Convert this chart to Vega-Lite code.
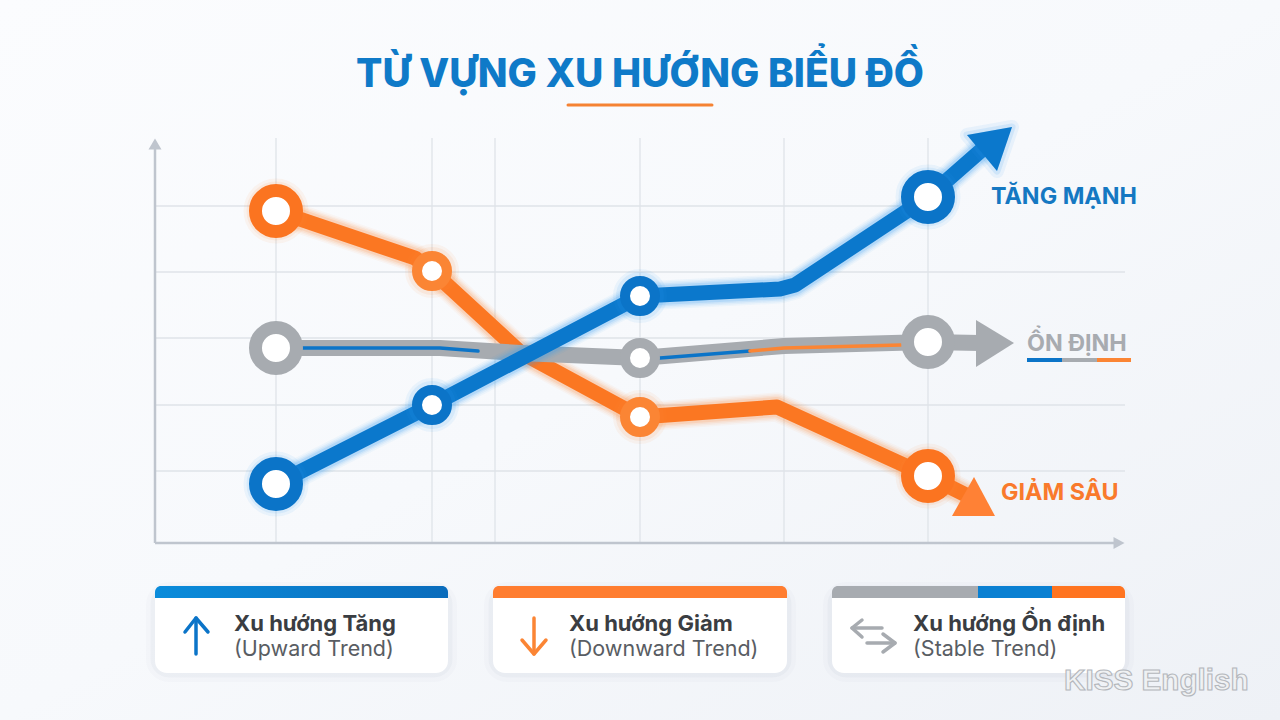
{
  "$schema": "https://vega.github.io/schema/vega-lite/v6.json",
  "width": 1280,
  "height": 720,
  "padding": 0,
  "autosize": {"type": "fit", "contains": "padding"},
  "background": "#f6f8fb",
  "config": {"view": {"stroke": null}, "legend": {"disable": true}},
  "datasets": {
    "trend": [
      {"series": "Tăng mạnh", "x": 12.1, "y": 5.9},
      {"series": "Tăng mạnh", "x": 27.7, "y": 13.8},
      {"series": "Tăng mạnh", "x": 48.5, "y": 24.7},
      {"series": "Tăng mạnh", "x": 62.5, "y": 25.4},
      {"series": "Tăng mạnh", "x": 64.0, "y": 25.8},
      {"series": "Tăng mạnh", "x": 77.3, "y": 34.6},
      {"series": "Tăng mạnh", "x": 83.0, "y": 39.6},
      {"series": "Giảm sâu", "x": 12.1, "y": 33.2},
      {"series": "Giảm sâu", "x": 26.0, "y": 28.5},
      {"series": "Giảm sâu", "x": 27.7, "y": 27.2},
      {"series": "Giảm sâu", "x": 36.5, "y": 19.1},
      {"series": "Giảm sâu", "x": 48.5, "y": 12.6},
      {"series": "Giảm sâu", "x": 62.2, "y": 13.6},
      {"series": "Giảm sâu", "x": 77.3, "y": 6.7},
      {"series": "Giảm sâu", "x": 81.7, "y": 4.5},
      {"series": "Ổn định", "x": 12.1, "y": 19.5},
      {"series": "Ổn định", "x": 28.5, "y": 19.5},
      {"series": "Ổn định", "x": 36.5, "y": 19.0},
      {"series": "Ổn định", "x": 48.5, "y": 18.5},
      {"series": "Ổn định", "x": 62.9, "y": 19.7},
      {"series": "Ổn định", "x": 77.3, "y": 20.1},
      {"series": "Ổn định", "x": 82.5, "y": 20.0}
    ],
    "markers": [
      {"series": "Giảm sâu", "tone": "orange", "kind": "major", "x": 12.1, "y": 33.2},
      {"series": "Giảm sâu", "tone": "soft", "kind": "minor", "x": 27.7, "y": 27.2},
      {"series": "Giảm sâu", "tone": "soft", "kind": "minor", "x": 48.5, "y": 12.6},
      {"series": "Giảm sâu", "tone": "orange", "kind": "major", "x": 77.3, "y": 6.7},
      {"series": "Ổn định", "tone": "gray", "kind": "major", "x": 12.1, "y": 19.5},
      {"series": "Ổn định", "tone": "gray", "kind": "minor", "x": 48.5, "y": 18.5},
      {"series": "Ổn định", "tone": "gray", "kind": "major", "x": 77.3, "y": 20.1},
      {"series": "Tăng mạnh", "tone": "blue", "kind": "major", "x": 12.1, "y": 5.9},
      {"series": "Tăng mạnh", "tone": "blue", "kind": "minor", "x": 27.7, "y": 13.8},
      {"series": "Tăng mạnh", "tone": "blue", "kind": "minor", "x": 48.5, "y": 24.7},
      {"series": "Tăng mạnh", "tone": "blue", "kind": "major", "x": 77.3, "y": 34.6}
    ],
    "inset": [
      {"part": "a", "tone": "blue", "x": 14.8, "y": 19.5},
      {"part": "a", "tone": "blue", "x": 28.5, "y": 19.5},
      {"part": "a", "tone": "blue", "x": 32.3, "y": 19.2},
      {"part": "b", "tone": "blue", "x": 50.5, "y": 18.5},
      {"part": "b", "tone": "blue", "x": 59.5, "y": 19.2},
      {"part": "c", "tone": "soft", "x": 59.5, "y": 19.2},
      {"part": "c", "tone": "soft", "x": 62.9, "y": 19.5},
      {"part": "c", "tone": "soft", "x": 74.6, "y": 19.8}
    ],
    "cards": [
      {"title": "Xu hướng Tăng", "note": "(Upward Trend)", "x": 0, "x2": 29.3, "y": -4.3, "y2": -13, "textx": 7.9, "titley": -8.8, "notey": -11.3},
      {"title": "Xu hướng Giảm", "note": "(Downward Trend)", "x": 33.8, "x2": 63.2, "y": -4.3, "y2": -13, "textx": 41.4, "titley": -8.8, "notey": -11.3},
      {"title": "Xu hướng Ổn định", "note": "(Stable Trend)", "x": 67.7, "x2": 97, "y": -4.3, "y2": -13, "textx": 75.8, "titley": -8.8, "notey": -11.3}
    ],
    "icons": [
      {"part": "u1", "tone": "blue", "o": 1, "x": 4.1, "y": -7.5},
      {"part": "u1", "tone": "blue", "o": 2, "x": 4.1, "y": -11.1},
      {"part": "u2", "tone": "blue", "o": 1, "x": 3.0, "y": -8.9},
      {"part": "u2", "tone": "blue", "o": 2, "x": 4.1, "y": -7.5},
      {"part": "u2", "tone": "blue", "o": 3, "x": 5.3, "y": -8.9},
      {"part": "d1", "tone": "soft", "o": 1, "x": 37.9, "y": -7.5},
      {"part": "d1", "tone": "soft", "o": 2, "x": 37.9, "y": -11.1},
      {"part": "d2", "tone": "soft", "o": 1, "x": 36.7, "y": -9.7},
      {"part": "d2", "tone": "soft", "o": 2, "x": 37.9, "y": -11.1},
      {"part": "d2", "tone": "soft", "o": 3, "x": 39.1, "y": -9.7},
      {"part": "l1", "tone": "gray", "o": 1, "x": 72.7, "y": -8.5},
      {"part": "l1", "tone": "gray", "o": 2, "x": 69.7, "y": -8.5},
      {"part": "l2", "tone": "gray", "o": 1, "x": 70.7, "y": -7.7},
      {"part": "l2", "tone": "gray", "o": 2, "x": 69.7, "y": -8.5},
      {"part": "l2", "tone": "gray", "o": 3, "x": 70.7, "y": -9.4},
      {"part": "r1", "tone": "gray", "o": 1, "x": 71.2, "y": -10},
      {"part": "r1", "tone": "gray", "o": 2, "x": 74.0, "y": -10},
      {"part": "r2", "tone": "gray", "o": 1, "x": 72.8, "y": -9.1},
      {"part": "r2", "tone": "gray", "o": 2, "x": 74.0, "y": -10},
      {"part": "r2", "tone": "gray", "o": 3, "x": 72.8, "y": -10.9}
    ]
  },
  "data": {"name": "trend"},
  "encoding": {
    "x": {"field": "x", "type": "quantitative", "axis": null, "scale": {"domain": [-15.5, 112.5], "nice": false, "zero": false}},
    "y": {"field": "y", "type": "quantitative", "axis": null, "scale": {"domain": [-17.7, 54.3], "nice": false, "zero": false}}
  },
  "layer": [
    {
      "data": {"values": [{"x": -15.5, "x2": 112.5, "y": -17.7, "y2": 54.3}]},
      "mark": {"type": "rect", "fill": {"gradient": "linear", "x1": 0, "y1": 0, "x2": 1, "y2": 1, "stops": [{"offset": 0, "color": "#fbfcfe"}, {"offset": 0.5, "color": "#f7f9fc"}, {"offset": 1, "color": "#eef1f6"}]}},
      "encoding": {"x2": {"field": "x2"}, "y2": {"field": "y2"}}
    },
    {
      "data": {"values": [{"x": 12.1, "y": 0, "y2": 40.5}, {"x": 27.7, "y": 0, "y2": 40.5}, {"x": 34, "y": 0, "y2": 40.5}, {"x": 48.5, "y": 0, "y2": 40.5}, {"x": 62.9, "y": 0, "y2": 40.5}, {"x": 77.3, "y": 0, "y2": 40.5}]},
      "mark": {"type": "rule", "color": "#dfe3e9", "strokeWidth": 1.3},
      "encoding": {"y2": {"field": "y2"}}
    },
    {
      "data": {"values": [{"x": 0, "y": 7.2, "x2": 97}, {"x": 0, "y": 13.8, "x2": 97}, {"x": 0, "y": 20.5, "x2": 82}, {"x": 0, "y": 27.1, "x2": 97}, {"x": 0, "y": 33.7, "x2": 77.3}]},
      "mark": {"type": "rule", "color": "#dfe3e9", "strokeWidth": 1.3},
      "encoding": {"x2": {"field": "x2"}}
    },
    {
      "data": {"values": [{"x": 0, "y": 0, "y2": 39.5}]},
      "mark": {"type": "rule", "color": "#bfc5ce", "strokeWidth": 2.5},
      "encoding": {"y2": {"field": "y2"}}
    },
    {
      "data": {"values": [{"x": 0, "x2": 96, "y": 0}]},
      "mark": {"type": "rule", "color": "#bfc5ce", "strokeWidth": 2.5},
      "encoding": {"x2": {"field": "x2"}}
    },
    {
      "data": {"values": [{"x": 0, "y": 39.9}]},
      "mark": {"type": "point", "filled": true, "opacity": 1, "color": "#bfc5ce", "shape": "M-0.26,0.22L0,-0.22L0.26,0.22Z", "size": 2500}
    },
    {
      "data": {"values": [{"x": 96.4, "y": 0}]},
      "mark": {"type": "point", "filled": true, "opacity": 1, "color": "#bfc5ce", "shape": "M-0.22,-0.24L0.22,0L-0.22,0.24Z", "size": 2500}
    },
    {
      "transform": [{"filter": "datum.series == 'Giảm sâu'"}],
      "mark": {"type": "line", "color": "#ff8a3d", "strokeWidth": 29, "strokeOpacity": 0.05, "strokeJoin": "round"}
    },
    {
      "transform": [{"filter": "datum.series == 'Giảm sâu'"}],
      "mark": {"type": "line", "color": "#ff8a3d", "strokeWidth": 26, "strokeOpacity": 0.07, "strokeJoin": "round"}
    },
    {
      "transform": [{"filter": "datum.series == 'Giảm sâu'"}],
      "mark": {"type": "line", "color": "#ff8a3d", "strokeWidth": 23, "strokeOpacity": 0.1, "strokeJoin": "round"}
    },
    {
      "transform": [{"filter": "datum.series == 'Giảm sâu'"}],
      "mark": {"type": "line", "color": "#ff8a3d", "strokeWidth": 20, "strokeOpacity": 0.16, "strokeJoin": "round"}
    },
    {
      "transform": [{"filter": "datum.series == 'Giảm sâu'"}],
      "mark": {"type": "line", "color": "#fb7722", "strokeWidth": 15, "strokeJoin": "round"}
    },
    {
      "data": {"values": [{"x": 81.9, "y": 4.3}]},
      "mark": {"type": "point", "filled": true, "opacity": 1, "color": "#ff8135", "shape": "M0.42,0.32L-0.44,0.32L0,-0.46Z", "size": 10000}
    },
    {
      "transform": [{"filter": "datum.series == 'Ổn định'"}],
      "mark": {"type": "line", "color": "#a7abb0", "strokeWidth": 16, "strokeJoin": "round"}
    },
    {
      "data": {"values": [{"x": 83.5, "y": 20}]},
      "mark": {"type": "point", "filled": true, "opacity": 1, "color": "#a7abb0", "shape": "M0.48,0L-0.28,-0.46L-0.28,0.48Z", "size": 10000}
    },
    {
      "data": {"name": "inset"},
      "mark": {"type": "line", "strokeWidth": 3.5, "strokeCap": "round"},
      "encoding": {
        "detail": {"field": "part"},
        "stroke": {"field": "tone", "type": "nominal", "scale": {"domain": ["blue", "orange", "gray", "soft"], "range": ["#0b74c8", "#fb7420", "#a7abb0", "#fb8534"]}}
      }
    },
    {
      "transform": [{"filter": "datum.series == 'Tăng mạnh'"}],
      "mark": {"type": "line", "color": "#2f9df2", "strokeWidth": 29, "strokeOpacity": 0.05, "strokeJoin": "round"}
    },
    {
      "transform": [{"filter": "datum.series == 'Tăng mạnh'"}],
      "mark": {"type": "line", "color": "#2f9df2", "strokeWidth": 26, "strokeOpacity": 0.07, "strokeJoin": "round"}
    },
    {
      "transform": [{"filter": "datum.series == 'Tăng mạnh'"}],
      "mark": {"type": "line", "color": "#2f9df2", "strokeWidth": 23, "strokeOpacity": 0.1, "strokeJoin": "round"}
    },
    {
      "transform": [{"filter": "datum.series == 'Tăng mạnh'"}],
      "mark": {"type": "line", "color": "#2f9df2", "strokeWidth": 20, "strokeOpacity": 0.16, "strokeJoin": "round"}
    },
    {
      "transform": [{"filter": "datum.series == 'Tăng mạnh'"}],
      "mark": {"type": "line", "color": "#0b78cc", "strokeWidth": 15, "strokeJoin": "round"}
    },
    {
      "data": {"values": [{"x": 82.7, "y": 39}]},
      "mark": {"type": "point", "filled": true, "opacity": 1, "fill": "#2f9df2", "fillOpacity": 0.1, "stroke": "#2f9df2", "strokeOpacity": 0.08, "strokeWidth": 14, "strokeJoin": "round", "shape": "M0.6,-0.52L-0.3,-0.36L0.3,0.36Z", "size": 10000}
    },
    {
      "data": {"values": [{"x": 82.7, "y": 39}]},
      "mark": {"type": "point", "filled": true, "opacity": 1, "fill": "#2f9df2", "fillOpacity": 0.1, "stroke": "#2f9df2", "strokeOpacity": 0.13, "strokeWidth": 7, "strokeJoin": "round", "shape": "M0.6,-0.52L-0.3,-0.36L0.3,0.36Z", "size": 10000}
    },
    {
      "data": {"values": [{"x": 82.7, "y": 39}]},
      "mark": {"type": "point", "filled": true, "opacity": 1, "color": "#0b78cc", "shape": "M0.6,-0.52L-0.3,-0.36L0.3,0.36Z", "size": 10000}
    },
    {
      "data": {"name": "markers"},
      "transform": [{"filter": "datum.series == 'Giảm sâu'"}],
      "mark": {"type": "circle", "fillOpacity": 0, "stroke": "#ff8a3d", "strokeOpacity": 0.07, "strokeWidth": 24},
      "encoding": {"size": {"field": "kind", "type": "nominal", "scale": {"domain": ["major", "minor"], "range": [1681, 900]}}}
    },
    {
      "data": {"name": "markers"},
      "transform": [{"filter": "datum.series == 'Giảm sâu'"}],
      "mark": {"type": "circle", "fillOpacity": 0, "stroke": "#ff8a3d", "strokeOpacity": 0.1, "strokeWidth": 18},
      "encoding": {"size": {"field": "kind", "type": "nominal", "scale": {"domain": ["major", "minor"], "range": [1681, 900]}}}
    },
    {
      "data": {"name": "markers"},
      "transform": [{"filter": "datum.series == 'Tăng mạnh'"}],
      "mark": {"type": "circle", "fillOpacity": 0, "stroke": "#2f9df2", "strokeOpacity": 0.07, "strokeWidth": 24},
      "encoding": {"size": {"field": "kind", "type": "nominal", "scale": {"domain": ["major", "minor"], "range": [1681, 900]}}}
    },
    {
      "data": {"name": "markers"},
      "transform": [{"filter": "datum.series == 'Tăng mạnh'"}],
      "mark": {"type": "circle", "fillOpacity": 0, "stroke": "#2f9df2", "strokeOpacity": 0.1, "strokeWidth": 18},
      "encoding": {"size": {"field": "kind", "type": "nominal", "scale": {"domain": ["major", "minor"], "range": [1681, 900]}}}
    },
    {
      "data": {"name": "markers"},
      "mark": {"type": "circle", "fill": "#ffffff", "fillOpacity": 1, "opacity": 1},
      "encoding": {
        "size": {"field": "kind", "type": "nominal", "scale": {"domain": ["major", "minor"], "range": [1681, 900]}},
        "strokeWidth": {"field": "kind", "type": "nominal", "scale": {"domain": ["major", "minor"], "range": [13, 10]}},
        "stroke": {"field": "tone", "type": "nominal", "scale": {"domain": ["blue", "orange", "gray", "soft"], "range": ["#0b74c8", "#fb7420", "#a7abb0", "#fb8534"]}}
      }
    },
    {
      "data": {"values": [{"label": "TỪ VỰNG XU HƯỚNG BIỂU ĐỒ", "x": 48.5, "y": 45.6}]},
      "mark": {"type": "text", "font": "Inter", "fontWeight": 800, "fontSize": 39, "align": "center", "baseline": "alphabetic", "color": "#0f7ac8"},
      "encoding": {"text": {"field": "label"}}
    },
    {
      "data": {"values": [{"x": 41.3, "x2": 55.7, "y": 43.8}]},
      "mark": {"type": "rule", "color": "#f58233", "strokeWidth": 3, "strokeCap": "round"},
      "encoding": {"x2": {"field": "x2"}}
    },
    {
      "data": {"values": [{"label": "TĂNG MẠNH", "x": 83.6, "y": 33.9, "tone": "blue"}, {"label": "ỔN ĐỊNH", "x": 87.2, "y": 19.2, "tone": "gray"}, {"label": "GIẢM SÂU", "x": 84.6, "y": 4.3, "tone": "orange"}]},
      "mark": {"type": "text", "font": "Inter", "fontWeight": "bold", "fontSize": 23.3, "align": "left", "baseline": "alphabetic"},
      "encoding": {
        "text": {"field": "label"},
        "color": {"field": "tone", "type": "nominal", "scale": {"domain": ["blue", "orange", "gray"], "range": ["#1578c2", "#f97a2c", "#a8abb0"]}}
      }
    },
    {
      "data": {"values": [{"x": 87.2, "x2": 90.7, "y": 18.3, "tone": "blue"}, {"x": 90.7, "x2": 94.2, "y": 18.3, "tone": "gray"}, {"x": 94.2, "x2": 97.6, "y": 18.3, "tone": "soft"}]},
      "mark": {"type": "rule", "strokeWidth": 4},
      "encoding": {
        "x2": {"field": "x2"},
        "stroke": {"field": "tone", "type": "nominal", "scale": {"domain": ["blue", "orange", "gray", "soft"], "range": ["#0b74c8", "#fb7420", "#a7abb0", "#fb8534"]}}
      }
    },
    {
      "data": {"name": "cards"},
      "mark": {"type": "rect", "fill": "#7d8ba3", "fillOpacity": 0.03, "strokeOpacity": 0.03, "strokeWidth": 18, "cornerRadius": 14, "yOffset": 5, "stroke": "#7d8ba3"},
      "encoding": {"x2": {"field": "x2"}, "y2": {"field": "y2"}}
    },
    {
      "data": {"name": "cards"},
      "mark": {"type": "rect", "fill": "#7d8ba3", "fillOpacity": 0.03, "strokeOpacity": 0.05, "strokeWidth": 9, "cornerRadius": 14, "yOffset": 4, "stroke": "#7d8ba3"},
      "encoding": {"x2": {"field": "x2"}, "y2": {"field": "y2"}}
    },
    {
      "data": {"name": "cards"},
      "mark": {"type": "rect", "fill": "#ffffff", "opacity": 1, "cornerRadius": 12},
      "encoding": {"x2": {"field": "x2"}, "y2": {"field": "y2"}}
    },
    {
      "data": {"values": [{"x": 0, "x2": 29.3, "y": -4.3, "y2": -5.5}]},
      "mark": {"type": "rect", "opacity": 1, "cornerRadiusTopLeft": 11, "cornerRadiusTopRight": 11, "fill": {"gradient": "linear", "x1": 0, "y1": 0, "x2": 1, "y2": 0, "stops": [{"offset": 0, "color": "#0a8cdb"}, {"offset": 1, "color": "#0a6cbc"}]}},
      "encoding": {"x2": {"field": "x2"}, "y2": {"field": "y2"}}
    },
    {
      "data": {"values": [{"x": 33.8, "x2": 63.2, "y": -4.3, "y2": -5.5}]},
      "mark": {"type": "rect", "opacity": 1, "cornerRadiusTopLeft": 11, "cornerRadiusTopRight": 11, "fill": "#ff7d30"},
      "encoding": {"x2": {"field": "x2"}, "y2": {"field": "y2"}}
    },
    {
      "data": {"values": [{"x": 67.7, "x2": 82.3, "y": -4.3, "y2": -5.5}]},
      "mark": {"type": "rect", "opacity": 1, "cornerRadiusTopLeft": 11, "fill": "#a7abb0"},
      "encoding": {"x2": {"field": "x2"}, "y2": {"field": "y2"}}
    },
    {
      "data": {"values": [{"x": 82.3, "x2": 89.7, "y": -4.3, "y2": -5.5}]},
      "mark": {"type": "rect", "opacity": 1, "fill": "#0a80d2"},
      "encoding": {"x2": {"field": "x2"}, "y2": {"field": "y2"}}
    },
    {
      "data": {"values": [{"x": 89.7, "x2": 97, "y": -4.3, "y2": -5.5}]},
      "mark": {"type": "rect", "opacity": 1, "cornerRadiusTopRight": 11, "fill": "#ff7420"},
      "encoding": {"x2": {"field": "x2"}, "y2": {"field": "y2"}}
    },
    {
      "data": {"name": "icons"},
      "mark": {"type": "line", "strokeWidth": 3.5, "strokeCap": "round", "strokeJoin": "round"},
      "encoding": {
        "detail": {"field": "part"},
        "order": {"field": "o"},
        "stroke": {"field": "tone", "type": "nominal", "scale": {"domain": ["blue", "orange", "gray", "soft"], "range": ["#0b74c8", "#fb7420", "#a7abb0", "#fb8534"]}}
      }
    },
    {
      "data": {"name": "cards"},
      "mark": {"type": "text", "font": "Inter", "fontWeight": "bold", "fontSize": 22, "align": "left", "baseline": "alphabetic", "color": "#3a3d42"},
      "encoding": {"x": {"field": "textx", "type": "quantitative"}, "y": {"field": "titley", "type": "quantitative"}, "text": {"field": "title"}}
    },
    {
      "data": {"name": "cards"},
      "mark": {"type": "text", "font": "Inter", "fontSize": 21.5, "align": "left", "baseline": "alphabetic", "color": "#595d63"},
      "encoding": {"x": {"field": "textx", "type": "quantitative"}, "y": {"field": "notey", "type": "quantitative"}, "text": {"field": "note"}}
    },
    {
      "data": {"values": [{"label": "KISS English", "x": 90.9, "y": -14.7}]},
      "mark": {"type": "text", "font": "Liberation Sans", "fontWeight": "bold", "fontSize": 29.7, "align": "left", "baseline": "alphabetic", "color": "#eff1f3", "stroke": "#b4b7bc", "strokeWidth": 1.1},
      "encoding": {"text": {"field": "label"}}
    }
  ]
}
